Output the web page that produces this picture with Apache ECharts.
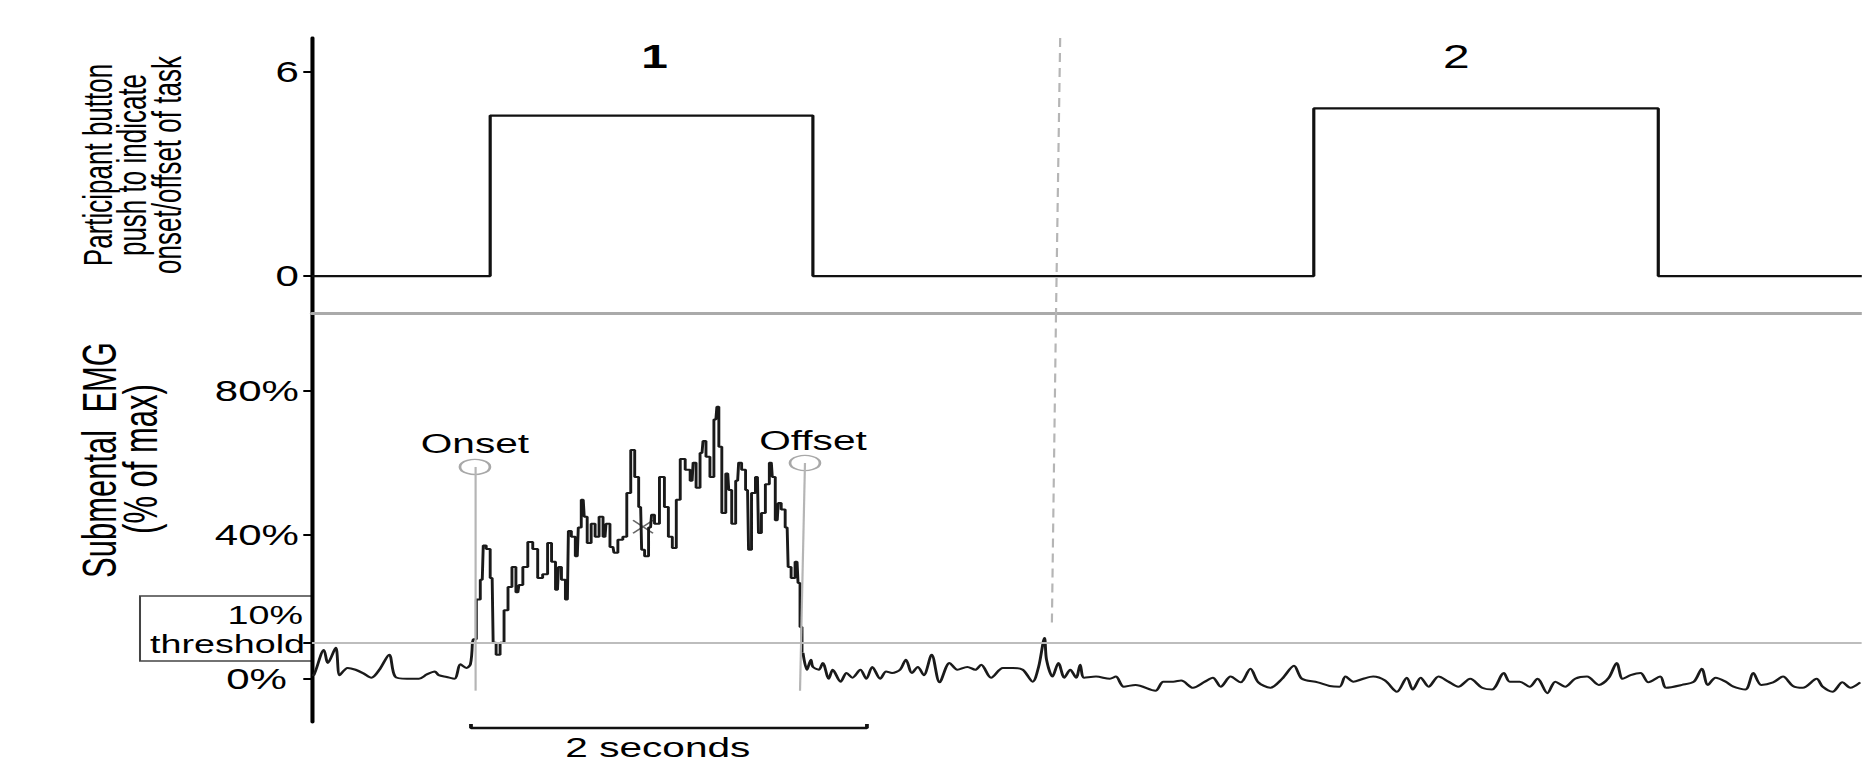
<!DOCTYPE html>
<html>
<head>
<meta charset="utf-8">
<script src="https://cdn.jsdelivr.net/npm/echarts@6/dist/echarts.min.js"></script>
<style>
	html, body { margin: 0; padding: 0; background: #fff; overflow: hidden; }
	#wrap { width: 1862px; height: 762px; overflow: hidden; }
	#chart { height: 762px; transform-origin: 0 0; }
</style>
</head>
<body>
<div id="wrap"><div id="chart"></div></div>
<script>
// the source figure is stretched sideways, so draw it narrow and widen it with css
const STRETCH = 1.45,
	W = 1862,
	sx = x => x / STRETCH;

// time in seconds, 0 = left axis
const timeMax = 7.828;

// top panel: button push trace
const buttonTime = [0, 0.90, 2.53, 5.06, 6.80, 7.83];
const buttonLevel = [0, 4.72, 0, 4.93, 0, 0];
const buttonTicks = [0, 6];
const taskNames = ['1', '2'];
const taskTime = [1.73, 5.78];

// bottom panel: submental EMG, % of max  ([time, value])
const emgTicks = [0, 10, 40, 80];
const emgLabels = [0, 40, 80];
const threshold = 10;

const emgPre = [[0.00, 1], [0.01, 1.1], [0.06, 8], [0.08, 4.4], [0.12, 8.6], [0.14, 1], [0.18, 3],
	[0.22, 2.5], [0.26, 1.5], [0.30, 0.3], [0.34, 2.5], [0.39, 6.7], [0.42, 0.6], [0.48, 0],
	[0.54, 0], [0.58, 1.2], [0.62, 2], [0.64, 1], [0.68, 0.5], [0.72, 0], [0.75, 4], [0.78, 3],
	[0.80, 4], [0.81, 10]];

const emgBurst = [[0.81, 10], [0.82, 11], [0.84, 22], [0.86, 27.5], [0.87, 37], [0.89, 36], [0.91, 28],
	[0.92, 10], [0.94, 6.7], [0.96, 10], [0.98, 19], [1.00, 25.5], [1.02, 31], [1.04, 24], [1.05, 26],
	[1.08, 31], [1.10, 38], [1.13, 36], [1.15, 28], [1.18, 29], [1.20, 37.7], [1.22, 32.5], [1.24, 24.7],
	[1.25, 31], [1.27, 27.5], [1.29, 22], [1.30, 41], [1.32, 39.4], [1.34, 34], [1.35, 42], [1.37, 49.7],
	[1.38, 45], [1.40, 37.7], [1.42, 43], [1.44, 39.4], [1.46, 45], [1.48, 39.4], [1.49, 43], [1.52, 36.6],
	[1.53, 35], [1.56, 38.6], [1.58, 39.4], [1.60, 51.6], [1.62, 63.5], [1.64, 56], [1.66, 47.7],
	[1.67, 35.8], [1.69, 34], [1.71, 42], [1.72, 45.5], [1.74, 43], [1.77, 56], [1.79, 47.7], [1.81, 39.4],
	[1.83, 36.3], [1.85, 49.7], [1.87, 61], [1.90, 58], [1.92, 55], [1.93, 60], [1.95, 53], [1.97, 62.7],
	[1.98, 66], [2.00, 61.6], [2.02, 56], [2.04, 72], [2.05, 75.5], [2.06, 64.4], [2.08, 46], [2.10, 57],
	[2.11, 52.4], [2.13, 43], [2.15, 55], [2.16, 60], [2.18, 58], [2.20, 52.4], [2.21, 35.8], [2.23, 51.6],
	[2.25, 56], [2.26, 40.5], [2.28, 46], [2.30, 54], [2.32, 60], [2.33, 56], [2.35, 44], [2.36, 48.8],
	[2.38, 47], [2.40, 42], [2.41, 31], [2.43, 28], [2.45, 32.5], [2.46, 26.6], [2.47, 14.4], [2.48, 7.2]];

const emgPost = [[2.48, 7.2], [2.50, 2.5], [2.52, 5.3], [2.53, 3.3], [2.56, 2.5], [2.58, 4.4], [2.61, 0],
	[2.63, 2.5], [2.67, -0.8], [2.70, 1.6], [2.73, 0.3], [2.77, 2.5], [2.80, 0], [2.83, 3.3], [2.87, 0],
	[2.90, 2], [2.93, 1.6], [2.97, 2.5], [3.00, 5.3], [3.03, 1.6], [3.06, 3.3], [3.09, 1], [3.13, 6.7],
	[3.17, -1], [3.22, 4.4], [3.26, 2.5], [3.31, 3.3], [3.35, 2.5], [3.38, 3.9], [3.43, 0.3], [3.49, 3],
	[3.54, 3], [3.59, 2.5], [3.64, -0.8], [3.67, 3.3], [3.70, 11.3], [3.71, 5.3], [3.74, 0.6], [3.77, 4.4],
	[3.80, 0.3], [3.83, 2.5], [3.86, 0.3], [3.88, 3.9], [3.90, 0.3], [3.96, 0.6], [4.03, 0], [4.06, 0.6],
	[4.10, -2.2], [4.16, -1.7], [4.26, -3.3], [4.30, -0.8], [4.35, -0.8], [4.39, -0.5], [4.45, -2.5],
	[4.51, -0.8], [4.55, 0.3], [4.59, -2.2], [4.64, 0.6], [4.69, -1], [4.74, 2.8], [4.78, -1], [4.84, -2.5],
	[4.90, 0], [4.96, 3.6], [5.00, 0], [5.08, -1], [5.14, -2], [5.19, -2.2], [5.22, 0.6], [5.26, -0.8],
	[5.31, 0], [5.36, 0.6], [5.42, -0.5], [5.48, -3.6], [5.53, 0.3], [5.56, -3], [5.60, 0.3], [5.64, -2.2],
	[5.69, 0.6], [5.74, -0.8], [5.79, -2.2], [5.85, 0], [5.91, -2.5], [5.96, -3], [6.02, 1.6], [6.05, -0.8],
	[6.10, -0.8], [6.15, -2.2], [6.19, 0], [6.24, -4], [6.28, -0.8], [6.33, -2.2], [6.38, 0], [6.44, 0.6],
	[6.50, -1.7], [6.55, 0.3], [6.59, 4.4], [6.62, 0], [6.66, 1], [6.71, 1.6], [6.75, -1], [6.81, 0.6],
	[6.84, -2.5], [6.92, -1.7], [6.98, -0.8], [7.02, 2.8], [7.05, -1.7], [7.09, 0.3], [7.14, -0.8],
	[7.18, -2.2], [7.24, -3], [7.28, 1.6], [7.32, -1.7], [7.38, -1], [7.43, 0.6], [7.48, -2], [7.53, -2.5],
	[7.60, 0], [7.63, -2.2], [7.68, -3.6], [7.73, -1], [7.77, -2.5], [7.82, -1]];

// onset / offset markers
const markerNames = ['Onset', 'Offset'];
const markerTop = [[0.823, 58.8], [2.49, 59.9]];
const markerBottom = [[0.823, -3.3], [2.465, -3.3]];
const crossMark = [1.672, 42.2];

// dashed separator between task 1 and 2
const splitTop = [3.779, 7];
const splitMid = [3.758, -1.1];
const splitMidLow = [3.758, 101.4];
const splitBottom = [3.737, 14.7];

// 2 second scale bar (third grid, value = px below its top)
const scaleBarTime = [0.803, 0.803, 2.803, 2.803];
const scaleBarLevel = [9, 13, 13, 9];
const scaleText = '2 seconds';

const dom = document.getElementById('chart');
dom.style.width = (W / STRETCH) + 'px';
dom.style.transform = 'scaleX(' + STRETCH + ')';

const chart = echarts.init(dom, null, { renderer: 'svg' });

const ink = '#000',
	grey = '#b5b5b5',
	font = 'Liberation Sans',
	left = sx(312),
	axisX = i => ({
		type: 'value', gridIndex: i, min: 0, max: timeMax,
		show: i === 0,
		position: 'bottom',
		axisLine: { show: i === 0, onZero: false, lineStyle: { color: '#aaa', width: 3 } },
		axisTick: { show: false }, axisLabel: { show: false }, splitLine: { show: false }
	}),
	tickLabel = { color: ink, fontSize: 29, fontFamily: font, margin: 9 },
	title = (text, x, y, size, grow) => ({
		type: 'text', x: sx(x), y, rotation: Math.PI / 2, scaleY: grow,
		style: { text, font: size + 'px "Liberation Sans"', fill: ink, align: 'center', verticalAlign: 'middle' }
	}),
	zip = (a, b) => a.map((v, i) => [v, b[i]]);

const option = {
	animation: false,
	backgroundColor: '#fff',
	textStyle: { fontFamily: font },
	grid: [
		{ left, right: 0, top: 38, height: 275.5 },
		{ left, right: 0, top: 313.5, height: 408.5 },
		{ left, right: 0, top: 715, height: 47 }
	],
	xAxis: [axisX(0), axisX(1), axisX(2)],
	yAxis: [
		{
			type: 'value', gridIndex: 0, min: -1.1, max: 7,
			axisLine: { show: true, lineStyle: { color: ink, width: 2.8 } },
			axisTick: { show: true, length: 6, customValues: buttonTicks, lineStyle: { color: ink, width: 2 } },
			axisLabel: { ...tickLabel, customValues: buttonTicks },
			splitLine: { show: false }
		},
		{
			type: 'value', gridIndex: 1, min: -12, max: 101.4,
			axisLine: { show: true, lineStyle: { color: ink, width: 2.8 } },
			axisTick: { show: true, length: 6, customValues: emgTicks, lineStyle: { color: ink, width: 2 } },
			axisLabel: {
				...tickLabel, customValues: emgLabels,
				formatter: v => v === 0 ? '{z|0%}' : v + '%',
				rich: { z: { fontSize: 29, color: ink, padding: [0, sx(12), 0, 0] } }
			},
			splitLine: { show: false }
		},
		{ type: 'value', gridIndex: 2, min: 0, max: 47, inverse: true, show: false }
	],
	graphic: [
		title('Participant button', 97.5, 165, 26, 1.1),
		title('push to indicate', 131.8, 165, 26, 1.1),
		title('onset/offset of task', 167, 165, 26, 1.1),
		title('Submental  EMG', 99, 460, 31, 1.05),
		title('(% of max)', 140, 459, 31, 1.05),
		{ type: 'rect', z: -1, shape: { x: sx(140), y: 596, width: sx(312) - sx(140), height: 65 },
			style: { fill: '#fff', stroke: '#444', lineWidth: 1.4 } },
		{ type: 'text', x: sx(303), y: 615,
			style: { text: '10%', font: '26px "Liberation Sans"', fill: ink, align: 'right', verticalAlign: 'middle' } },
		{ type: 'text', x: sx(305), y: 644,
			style: { text: 'threshold', font: '26px "Liberation Sans"', fill: ink, align: 'right', verticalAlign: 'middle' } }
	],
	series: [
		{
			type: 'line', xAxisIndex: 0, yAxisIndex: 0, step: 'end', symbol: 'none',
			data: zip(buttonTime, buttonLevel),
			lineStyle: { color: '#111', width: 2.2 },
			markLine: {
				silent: true, symbol: ['none', 'none'], label: { show: false },
				lineStyle: { color: grey, width: 1.5, type: [9, 6] },
				data: [[{ coord: splitTop }, { coord: splitMid }]]
			}
		},
		{
			type: 'scatter', xAxisIndex: 0, yAxisIndex: 0, symbolSize: 1,
			itemStyle: { color: 'rgba(0,0,0,0)', opacity: 1 },
			label: { show: true, position: 'inside', formatter: '{b}', fontSize: 33, color: ink },
			data: taskNames.map((n, i) => ({
				name: n, value: [taskTime[i], 6.44],
				label: { fontWeight: i === 0 ? 'bold' : 'normal' }
			}))
		},
		{
			type: 'line', xAxisIndex: 1, yAxisIndex: 1, symbol: 'none', smooth: 0.3,
			data: emgPre, lineStyle: { color: '#1a1a1a', width: 2 }
		},
		{
			type: 'line', xAxisIndex: 1, yAxisIndex: 1, symbol: 'none', step: 'middle',
			data: emgBurst, lineStyle: { color: '#1a1a1a', width: 2 },
			markLine: {
				silent: true, symbol: ['none', 'none'], label: { show: false },
				lineStyle: { color: grey, width: 1.5, type: 'solid' },
				data: [
					{ yAxis: threshold, lineStyle: { width: 2, color: '#bdbdbd' } },
					[{ coord: markerBottom[0] }, { coord: markerTop[0] }],
					[{ coord: markerBottom[1] }, { coord: markerTop[1] }],
					[{ coord: splitMidLow, lineStyle: { type: [9, 6] } }, { coord: splitBottom }]
				]
			}
		},
		{
			type: 'line', xAxisIndex: 1, yAxisIndex: 1, symbol: 'none', smooth: 0.3,
			data: emgPost, lineStyle: { color: '#1a1a1a', width: 2 }
		},
		{
			type: 'scatter', xAxisIndex: 1, yAxisIndex: 1, symbol: 'circle', symbolSize: [sx(30), 15],
			itemStyle: { color: 'rgba(0,0,0,0)', borderColor: '#a8a8a8', borderWidth: 1.6, opacity: 1 },
			label: { show: true, position: 'inside', formatter: '{b}', fontSize: 28, color: ink, offset: [0, -24] },
			data: markerNames.map((n, i) => ({
				name: n, value: markerTop[i],
				label: i === 1 ? { offset: [sx(8), -23] } : {}
			}))
		},
		{
			type: 'scatter', xAxisIndex: 1, yAxisIndex: 1,
			symbol: 'path://M0,0L10,10M10,0L0,10', symbolSize: [sx(20), 13],
			itemStyle: { color: 'none', borderColor: '#666', borderWidth: 1.2, opacity: 1 },
			data: [crossMark]
		},
		{
			type: 'line', xAxisIndex: 2, yAxisIndex: 2, symbol: 'none',
			data: zip(scaleBarTime, scaleBarLevel), lineStyle: { color: '#111', width: 2.6 }
		},
		{
			type: 'scatter', xAxisIndex: 2, yAxisIndex: 2, symbolSize: 1,
			itemStyle: { color: 'rgba(0,0,0,0)', opacity: 1 },
			label: { show: true, position: 'inside', formatter: '{b}', fontSize: 28, color: ink },
			data: [{ name: scaleText, value: [1.747, 32] }]
		}
	]
};

chart.setOption(option);
</script>
</body>
</html>
